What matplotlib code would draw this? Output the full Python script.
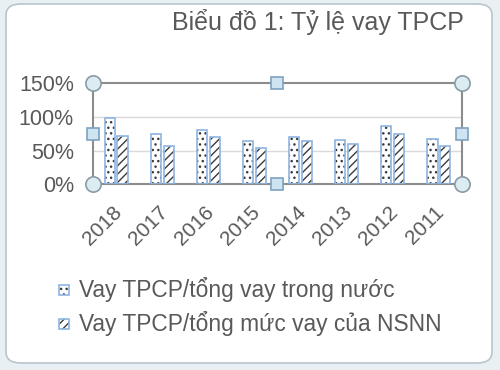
import matplotlib
matplotlib.use("Agg")
import matplotlib.pyplot as plt
from matplotlib.patches import Rectangle, FancyBboxPatch
import matplotlib.transforms as mtransforms
import numpy as np

plt.rcParams['font.family'] = ['Liberation Sans', 'DejaVu Sans']
plt.rcParams['hatch.linewidth'] = 1.0

years = ["2018", "2017", "2016", "2015", "2014", "2013", "2012", "2011"]
vay_trong_nuoc = [99, 75, 81, 64, 70, 66, 87, 68]     # Vay TPCP/tổng vay trong nước (%)
vay_nsnn = [72, 57, 70, 54, 64, 60, 75, 57]           # Vay TPCP/tổng mức vay của NSNN (%)
yticks = [0, 50, 100, 150]
ytick_labels = ["0%", "50%", "100%", "150%"]
title = "Biểu đồ 1: Tỷ lệ vay TPCP"
labels = ["Vay TPCP/tổng vay trong nước", "Vay TPCP/tổng mức vay của NSNN"]

W, H = 500, 370
fig = plt.figure(figsize=(5, 3.7), dpi=100)
fig.patch.set_facecolor('#e8f0f4')

# white rounded chart area
bg = FancyBboxPatch((6 / W, 1 - 363 / H), 486 / W, 359 / H,
                    boxstyle="round,pad=0,rounding_size=0.03",
                    transform=fig.transFigure, facecolor='white',
                    edgecolor='#b9c5cd', linewidth=1.2, zorder=-5)
fig.patches.append(bg)

ax = fig.add_axes([93.3 / W, 1 - 184.3 / H, (461.7 - 93.3) / W, (184.3 - 83.3) / H])
ax.set_zorder(2)
ax.set_facecolor('none')
x = np.arange(len(years))
w = 0.22
off = 0.135
edge = '#8db4e2'
dark = '#3a3a3a'

# hatched fill (dark hatch) then light blue outline
ax.bar(x - off, vay_trong_nuoc, w, facecolor='white', edgecolor=dark, hatch='...', linewidth=0, zorder=2)
ax.bar(x - off, vay_trong_nuoc, w, facecolor='none', edgecolor=edge, linewidth=1.2, zorder=3)
ax.bar(x + off, vay_nsnn, w, facecolor='white', edgecolor=dark, hatch='////', linewidth=0, zorder=2)
ax.bar(x + off, vay_nsnn, w, facecolor='none', edgecolor=edge, linewidth=1.2, zorder=3)

ax.set_xlim(-0.5, len(years) - 0.5)
ax.set_ylim(0, 150)
ax.set_yticks(yticks)
ax.set_yticklabels(ytick_labels, fontsize=15.5, color='#595959')
ax.set_xticks(x)
ax.set_xticklabels(years, fontsize=15, color='#595959', rotation=45,
                   ha='right', rotation_mode='anchor')
ax.tick_params(axis='y', length=0, pad=14)
ax.tick_params(axis='x', length=0, pad=13)
shift = mtransforms.ScaledTranslation(-4 / 100, 0, fig.dpi_scale_trans)
for lbl in ax.get_xticklabels():
    lbl.set_transform(lbl.get_transform() + shift)
for yv in [50, 100]:
    ax.axhline(yv, color='#d9d9d9', linewidth=1, zorder=1)
for s in ax.spines.values():
    s.set_color('#8c8c8c')
    s.set_linewidth(1.5)

# selection handles
for (hx, hy) in [(0, 0), (1, 0), (0, 1), (1, 1)]:
    ax.plot(hx, hy, 'o', transform=ax.transAxes, ms=11, mfc='#dcecf3',
            mec='#8a9ba6', mew=1.2, clip_on=False, zorder=5)
for (hx, hy) in [(0.5, 0), (0.5, 1), (0, 0.5), (1, 0.5)]:
    ax.plot(hx, hy, 's', transform=ax.transAxes, ms=8, mfc='#cfe4f1',
            mec='#7ea2c2', mew=1.2, clip_on=False, zorder=5)

fig.text(318 / W, 1 - 22 / H, title, fontsize=18, color='#595959',
         ha='center', va='center')

# legend
for i, (lab, hatch) in enumerate(zip(labels, ['...', '////'])):
    cy = [290, 324][i]
    r1 = Rectangle((59 / W, 1 - (cy + 5) / H), 10 / W, 10 / H, transform=fig.transFigure,
                   facecolor='white', edgecolor=dark, hatch=hatch, linewidth=0)
    r2 = Rectangle((59 / W, 1 - (cy + 5) / H), 10 / W, 10 / H, transform=fig.transFigure,
                   facecolor='none', edgecolor=edge, linewidth=1.2)
    fig.patches.extend([r1, r2])
    fig.text(79 / W, 1 - cy / H, lab, fontsize=16.4, color='#595959', ha='left', va='center')

fig.savefig("out.png", dpi=100, facecolor=fig.get_facecolor())
